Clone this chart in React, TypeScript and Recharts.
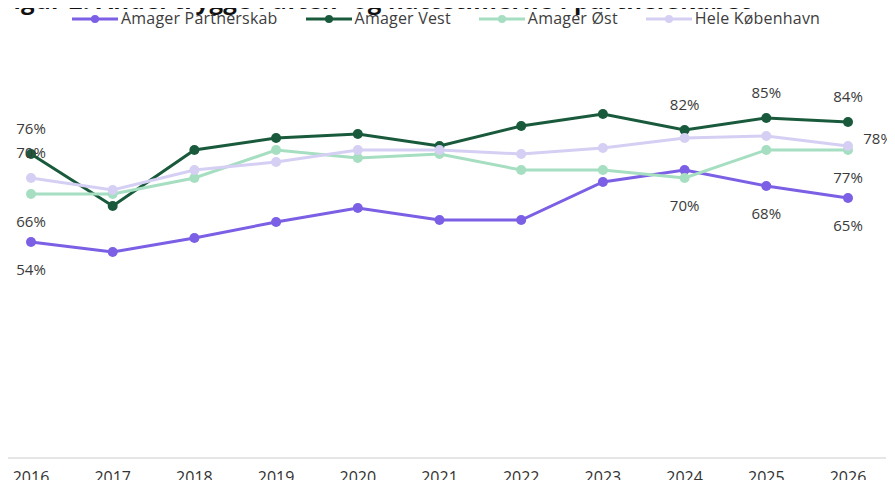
import { LineChart, Line, XAxis, YAxis, LabelList } from 'recharts'

const years = ['2016', '2017', '2018', '2019', '2020', '2021', '2022', '2023', '2024', '2025', '2026']
const partnerskab = [54, 51.5, 55, 59, 62.5, 59.5, 59.5, 69, 72, 68, 65]
const vest = [76, 63, 77, 80, 81, 78, 83, 86, 82, 85, 84]
const ost = [66, 66, 70, 77, 75, 76, 72, 72, 70, 77, 77]
const hele = [70, 67, 72, 74, 77, 77, 76, 77.5, 80, 80.5, 78]

const data = years.map((year, i) => ({
  year,
  partnerskab: partnerskab[i],
  vest: vest[i],
  ost: ost[i],
  hele: hele[i],
}))

type Mode = 'above' | 'below' | 'right'

const series: { key: string; name: string; color: string; width: number; labels: Record<number, Mode> }[] = [
  { key: 'partnerskab', name: 'Amager Partnerskab', color: '#7b5fe4', width: 3, labels: { 0: 'below', 9: 'below', 10: 'below' } },
  { key: 'vest', name: 'Amager Vest', color: '#1a5a3c', width: 3, labels: { 0: 'above', 8: 'above', 9: 'above', 10: 'above' } },
  { key: 'ost', name: 'Amager Øst', color: '#a6dec1', width: 3, labels: { 0: 'below', 8: 'below', 10: 'below' } },
  { key: 'hele', name: 'Hele København', color: '#d5cff4', width: 3, labels: { 0: 'above', 10: 'right' } },
]

const FONT = '"Open Sans", sans-serif'

function makeLabel(labels: Record<number, Mode>) {
  return (props: any) => {
    const { x, y, value, index } = props
    const mode = labels[index]
    if (!mode || value == null) return null
    let dx = 0
    let dy = mode === 'above' ? -26 : 27
    if (mode === 'right') {
      dx = 30
      dy = -8
    }
    return (
      <text
        x={x + dx}
        y={y + dy}
        textAnchor="middle"
        dominantBaseline="central"
        fill="#3a3a3a"
        fontSize={15}
        fontFamily={FONT}
      >
        {Math.round(value)}%
      </text>
    )
  }
}

function LegendRow() {
  return (
    <div style={{ position: 'absolute', top: 9, left: 72, display: 'flex', alignItems: 'center' }}>
      {series.map((s) => (
        <div key={s.key} style={{ display: 'flex', alignItems: 'center', marginRight: 28 }}>
          <svg width={46} height={12}>
            <line x1={0} y1={6} x2={46} y2={6} stroke={s.color} strokeWidth={3} />
            <circle cx={23} cy={6} r={4} fill={s.color} />
          </svg>
          <span
            style={{
              marginLeft: 3,
              fontSize: 16,
              lineHeight: '19px',
              letterSpacing: 0.2,
              color: '#3d3d3d',
              fontFamily: FONT,
            }}
          >
            {s.name}
          </span>
        </div>
      ))}
    </div>
  )
}

export default function App() {
  return (
    <div
      style={{
        position: 'relative',
        width: 895,
        height: 488,
        margin: -8,
        overflow: 'hidden',
        background: '#fff',
        fontFamily: FONT,
      }}
    >
      <div
        style={{
          position: 'absolute',
          top: -12,
          left: 0,
          fontSize: 24,
          lineHeight: '24px',
          letterSpacing: 0.3,
          fontWeight: 700,
          color: '#111',
          whiteSpace: 'nowrap',
        }}
      >
        Figur 2: Andel trygge i aften- og nattetimerne i partnerskabet
      </div>
      <LegendRow />
      <LineChart width={895} height={488} data={data} margin={{ top: 58, right: 9, left: 7, bottom: 0 }}>
        <XAxis
          dataKey="year"
          height={30}
          padding={{ left: 24, right: 38 }}
          axisLine={{ stroke: '#e6e6e6', strokeWidth: 2 }}
          tickLine={false}
          tickSize={0}
          tickMargin={14}
          tick={{ fontSize: 16, fill: '#333', fontFamily: FONT }}
          interval={0}
        />
        <YAxis hide domain={[0, 100]} />
        {series.map((s) => (
          <Line
            key={s.key}
            dataKey={s.key}
            name={s.name}
            stroke={s.color}
            strokeWidth={s.width}
            dot={{ r: 5, fill: s.color, stroke: s.color, strokeWidth: 0 }}
            activeDot={false}
            isAnimationActive={false}
          >
            <LabelList dataKey={s.key} content={makeLabel(s.labels)} />
          </Line>
        ))}
      </LineChart>
    </div>
  )
}
